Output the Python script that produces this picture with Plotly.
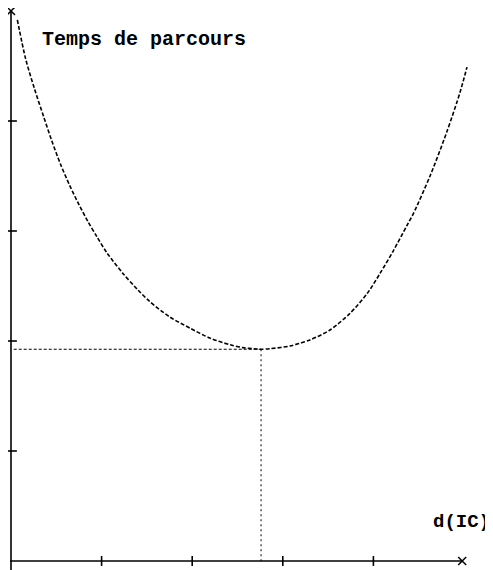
import plotly.graph_objects as go

# Data (axis units: 1 tick = 1 unit)
d_ic = [0.07, 0.16, 0.26, 0.36, 0.45, 0.55, 0.65, 0.75, 0.85, 0.95, 1.06, 1.24, 1.40,
        1.53, 1.75, 1.98, 2.20, 2.42, 2.56, 2.71, 2.76, 2.86, 3.08, 3.30, 3.52, 3.74,
        3.93, 4.07, 4.22, 4.37, 4.44, 4.625, 4.81, 4.956, 5.033]
temps = [4.92, 4.57, 4.29, 4.04, 3.82, 3.60, 3.41, 3.24, 3.085, 2.945, 2.80, 2.61, 2.465,
         2.36, 2.22, 2.115, 2.025, 1.965, 1.94, 1.927, 1.925, 1.93, 1.955, 2.01, 2.10, 2.25,
         2.43, 2.61, 2.82, 3.05, 3.156, 3.50, 3.90, 4.26, 4.49]
x_ticks = [1, 2, 3, 4]
y_ticks = [1, 2, 3, 4]
x_min, y_min = 2.76, 1.925
x_end, y_end = 4.98, 5.0
y_label = "Temps de parcours"
x_label = "d(IC)"

fig = go.Figure()

# axes
fig.add_trace(go.Scatter(x=[0, 0], y=[-0.09, y_end], mode="lines",
                         line=dict(color="black", width=1.6), hoverinfo="skip"))
fig.add_trace(go.Scatter(x=[-0.01, x_end], y=[0, 0], mode="lines",
                         line=dict(color="black", width=1.6), hoverinfo="skip"))
# arrow tips
fig.add_trace(go.Scatter(x=[0, x_end], y=[y_end, 0], mode="markers",
                         marker=dict(symbol="x-thin-open", size=8, color="black",
                                     line=dict(color="black", width=1.5)),
                         hoverinfo="skip"))
# tick crosses
for t in x_ticks:
    fig.add_trace(go.Scatter(x=[t, t], y=[-0.045, 0.045], mode="lines",
                             line=dict(color="black", width=1.6), hoverinfo="skip"))
for t in y_ticks:
    fig.add_trace(go.Scatter(x=[-0.045, 0.065], y=[t, t], mode="lines",
                             line=dict(color="black", width=1.6), hoverinfo="skip"))

# guide lines to the minimum
fig.add_trace(go.Scatter(x=[0.03, x_min], y=[y_min, y_min], mode="lines",
                         line=dict(color="black", width=1, dash="3px,2px"), hoverinfo="skip"))
fig.add_trace(go.Scatter(x=[x_min, x_min], y=[y_min, 0], mode="lines",
                         line=dict(color="black", width=1, dash="2px,3px"), hoverinfo="skip"))

# curve
fig.add_trace(go.Scatter(x=d_ic, y=temps, mode="lines", line_shape="spline",
                         line=dict(color="black", width=1.6, dash="4px,2px", smoothing=0.8),
                         hoverinfo="skip"))

fig.add_annotation(x=0.32, y=4.745, text="<b>" + y_label + "</b>", showarrow=False,
                   xanchor="left", yanchor="middle",
                   font=dict(family="Liberation Mono", size=20, color="black"))
fig.add_annotation(x=4.64, y=0.355, text="<b>" + x_label + "</b>", showarrow=False,
                   xanchor="left", yanchor="middle",
                   font=dict(family="Liberation Mono", size=19, color="black"))

# page has an 8px body margin: figure is 485x562, placed at (8, 8)
fig.update_layout(
    width=485, height=562,
    margin=dict(l=0, r=0, t=0, b=0),
    paper_bgcolor="white", plot_bgcolor="white",
    showlegend=False,
    xaxis=dict(range=[-3 / 90.6, 482 / 90.6], visible=False, fixedrange=True),
    yaxis=dict(range=[-9 / 110, 553 / 110], visible=False, fixedrange=True),
)

fig.write_html("out.html", config={"displayModeBar": False})
